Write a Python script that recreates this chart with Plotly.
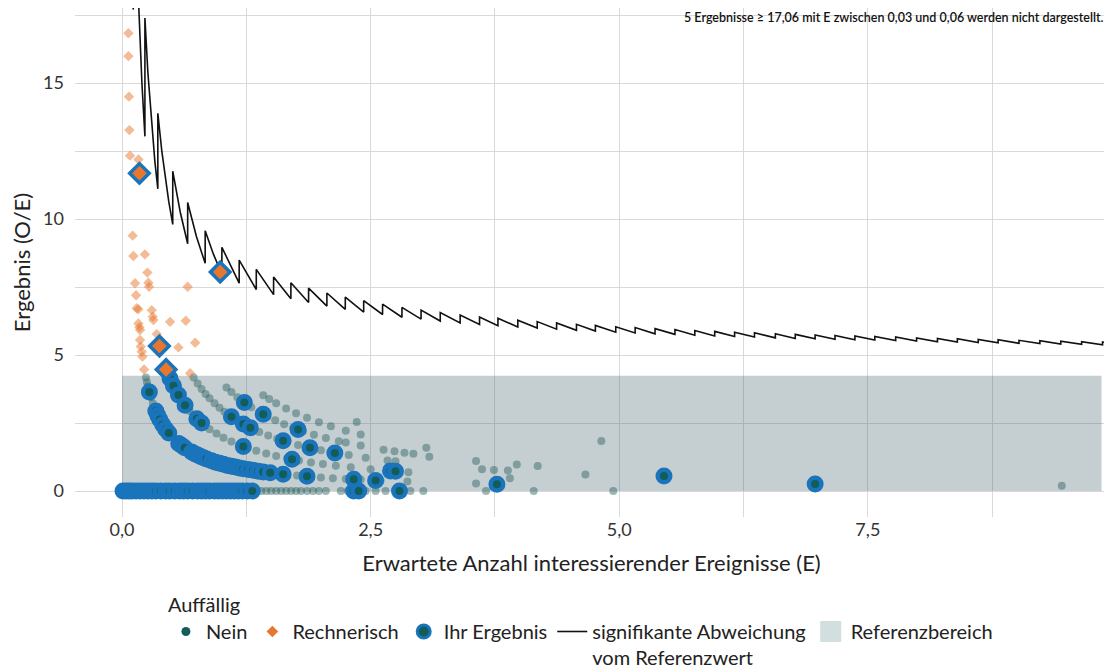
import plotly.graph_objects as go

# ---------------- data ----------------
# significance boundary (sawtooth), vertices
line_e = [0.095, 0.113, 0.113, 0.14, 0.17, 0.20, 0.23, 0.23, 0.26, 0.295, 0.33, 0.36,
          0.36, 0.40, 0.435, 0.47, 0.51, 0.51, 0.585, 0.66, 0.66, 0.748, 0.836, 0.836,
          0.92, 1.004, 1.004, 1.178, 1.178, 1.35, 1.35, 1.524, 1.524, 1.698, 1.698,
          1.876, 1.876, 2.06, 2.06, 2.245, 2.245, 2.43, 2.43, 2.62, 2.62, 2.815, 2.815,
          3.007, 3.007, 3.20, 3.20, 3.40, 3.40, 3.595, 3.595, 3.78, 3.78, 3.98, 3.98,
          4.175, 4.175, 4.37, 4.37, 4.57, 4.57, 4.76, 4.76, 4.965, 4.965, 5.16, 5.16,
          5.36, 5.36, 5.56, 5.56, 5.76, 5.76, 5.96, 5.96, 6.16, 6.16, 6.36, 6.36, 6.57,
          6.57, 6.77, 6.77, 6.97, 6.97, 7.17, 7.17, 7.37, 7.37, 7.57, 7.57, 7.78, 7.78,
          7.99, 7.99, 8.20, 8.20, 8.40, 8.40, 8.61, 8.61, 8.81, 8.81, 9.02, 9.02, 9.23,
          9.23, 9.44, 9.44, 9.65, 9.65, 9.86, 9.86, 9.93]
line_oe = [21.05, 17.70, 26.55, 21.43, 17.65, 15.00, 13.04, 17.39, 15.38, 13.56, 12.12, 11.11,
           13.89, 12.50, 11.49, 10.64, 9.80, 11.76, 10.26, 9.09, 10.61, 9.36, 8.37, 9.57,
           8.70, 7.97, 8.96, 7.64, 8.49, 7.41, 8.15, 7.22, 7.87, 7.07, 7.66,
           6.93, 7.46, 6.80, 7.28, 6.68, 7.13, 6.58, 7.00, 6.49, 6.87, 6.39, 6.75,
           6.32, 6.65, 6.25, 6.56, 6.18, 6.47, 6.12, 6.40, 6.08, 6.35, 6.03, 6.28,
           5.99, 6.23, 5.95, 6.18, 5.91, 6.13, 5.88, 6.09, 5.84, 6.04, 5.81, 6.01,
           5.78, 5.97, 5.76, 5.94, 5.73, 5.90, 5.70, 5.87, 5.68, 5.84, 5.66, 5.82, 5.63,
           5.78, 5.61, 5.76, 5.60, 5.74, 5.58, 5.72, 5.56, 5.70, 5.55, 5.68, 5.53, 5.66,
           5.51, 5.63, 5.49, 5.61, 5.48, 5.60, 5.46, 5.57, 5.45, 5.56, 5.43, 5.54, 5.42,
           5.53, 5.40, 5.51, 5.39, 5.49, 5.375, 5.48, 5.44]

# reference range (Referenzbereich)
ref_e = [0.0, 9.85]
ref_oe = [0.0, 4.24]

# "Nein" results
nein_e = [
    # O/E = 0
    0.02, 0.05, 0.08, 0.10, 0.13, 0.16, 0.19, 0.22, 0.25, 0.28, 0.31, 0.34, 0.37, 0.40,
    0.43, 0.46, 0.50, 0.53, 0.56, 0.60, 0.63, 0.66, 0.70, 0.73, 0.77, 0.80, 0.84, 0.88,
    0.92, 0.96, 1.00, 1.04, 1.08, 1.12, 1.16, 1.20, 1.25, 1.30, 1.35, 1.40, 1.45, 1.50,
    1.55, 1.60, 1.65, 1.70, 1.75, 1.80, 1.86, 1.92, 1.98, 2.05, 2.20, 2.27, 2.35, 2.45,
    2.55, 2.65, 2.90, 3.03, 3.66, 4.14, 4.94,
    # first curve
    0.24, 0.25, 0.26, 0.27, 0.29, 0.31, 0.33, 0.35, 0.37, 0.40, 0.43, 0.46, 0.50, 0.54,
    0.58, 0.62, 0.66, 0.70, 0.75, 0.80, 0.86, 0.92, 0.98, 1.05, 1.12, 1.20, 1.28, 1.36,
    1.45, 1.55, 1.65, 1.76, 1.88, 2.00, 2.12, 2.25, 2.40, 2.60, 2.87, 3.56, 9.45,
    # second curve
    0.48, 0.50, 0.53, 0.56, 0.60, 0.64, 0.68, 0.72, 0.77, 0.82, 0.88, 0.95, 1.02, 1.10,
    1.18, 1.26, 1.35, 1.45, 1.55, 1.66, 1.78, 1.90, 2.02, 2.15, 2.30, 2.50, 2.67, 2.88,
    3.90,
    # third curve
    0.72, 0.76, 0.80, 0.84, 0.88, 0.93, 0.98, 1.03, 1.09, 1.15, 1.22, 1.30, 1.38, 1.47,
    1.56, 1.66, 1.77, 1.88, 2.00, 2.14, 2.28, 2.45, 2.67, 2.75,
    # fourth curve
    1.05, 1.10, 1.16, 1.22, 1.30, 1.38, 1.46, 1.54, 1.63, 1.72, 1.82, 1.93, 2.05, 2.18,
    2.25, 2.40, 2.63, 2.74, 2.84, 2.93,
    # fifth curve
    1.42, 1.48, 1.55, 1.65, 1.75, 1.86, 1.98, 2.10, 2.25, 2.40,
    # scattered
    2.36, 3.06, 3.09, 3.56, 3.62, 3.74, 3.88, 3.97, 4.18, 4.66, 4.82,
]
nein_oe = [
    0, 0, 0, 0, 0, 0, 0, 0, 0, 0, 0, 0, 0, 0,
    0, 0, 0, 0, 0, 0, 0, 0, 0, 0, 0, 0, 0, 0,
    0, 0, 0, 0, 0, 0, 0, 0, 0, 0, 0, 0, 0, 0,
    0, 0, 0, 0, 0, 0, 0, 0, 0, 0, 0, 0, 0, 0,
    0, 0, 0, 0, 0, 0, 0,
    4.17, 4.00, 3.85, 3.70, 3.45, 3.23, 3.03, 2.86, 2.70, 2.50, 2.33, 2.17, 2.00, 1.85,
    1.72, 1.61, 1.52, 1.43, 1.33, 1.25, 1.16, 1.09, 1.02, 0.95, 0.89, 0.83, 0.78, 0.74,
    0.69, 0.65, 0.61, 0.57, 0.53, 0.50, 0.47, 0.44, 0.42, 0.38, 0.35, 0.28, 0.19,
    4.17, 4.00, 3.77, 3.57, 3.33, 3.13, 2.94, 2.78, 2.60, 2.44, 2.27, 2.11, 1.96, 1.82,
    1.69, 1.59, 1.48, 1.38, 1.29, 1.20, 1.12, 1.05, 0.99, 0.93, 0.87, 0.80, 0.75, 0.69,
    0.47,
    4.17, 3.95, 3.75, 3.57, 3.41, 3.23, 3.06, 2.91, 2.75, 2.61, 2.46, 2.31, 2.17, 2.04,
    1.92, 1.81, 1.69, 1.60, 1.50, 1.40, 1.32, 1.22, 1.12, 1.09,
    3.81, 3.64, 3.45, 3.28, 3.08, 2.90, 2.74, 2.60, 2.45, 2.33, 2.20, 2.07, 1.95, 1.83,
    1.78, 1.67, 1.52, 1.46, 1.41, 1.37,
    3.52, 3.38, 3.23, 3.03, 2.86, 2.69, 2.53, 2.38, 2.22, 2.08,
    2.54, 1.59, 1.26, 1.10, 0.80, 0.77, 0.75, 0.97, 0.92, 0.61, 1.84,
]

# "Rechnerisch" results
rech_e = [0.064, 0.064, 0.070, 0.074, 0.080, 0.165, 0.107, 0.114, 0.230, 0.255, 0.131,
          0.265, 0.272, 0.660, 0.141, 0.148, 0.164, 0.299, 0.309, 0.315, 0.483, 0.641,
          0.165, 0.175, 0.181, 0.349, 0.181, 0.188, 0.198, 0.205, 0.567, 0.735, 0.222,
          0.685]
rech_oe = [16.83, 15.99, 14.50, 13.27, 12.33, 12.19, 9.39, 8.64, 8.70, 8.03, 7.64,
           7.66, 7.51, 7.51, 7.20, 6.72, 6.68, 6.65, 6.41, 6.29, 6.22, 6.26,
           6.16, 6.02, 5.92, 5.77, 5.55, 5.31, 5.12, 4.94, 5.28, 5.45, 4.47,
           4.33]

# "Ihr Ergebnis" (own results, not flagged)
own_e = [0.01, 0.04, 0.07, 0.10, 0.14, 0.18, 0.22, 0.26, 0.30, 0.34, 0.39, 0.44, 0.48,
         0.53, 0.58, 0.62, 0.66, 0.71, 0.76, 0.80, 0.84, 0.88, 0.93, 0.97, 1.01, 1.05,
         1.09, 1.13, 1.17, 1.21, 1.26, 1.31, 2.33, 2.38, 2.79,
         0.275, 0.34, 0.36, 0.38, 0.41, 0.44, 0.47, 0.57, 0.60, 0.63, 0.70, 0.73, 0.76,
         0.79, 0.82, 0.85, 0.90, 0.94, 0.98, 1.02, 1.06, 1.10, 1.14, 1.18, 1.22, 1.27,
         1.32, 1.37, 1.42, 1.49, 1.62, 1.86, 2.33, 2.55, 3.77, 6.97,
         0.483, 0.517, 0.567, 0.634, 0.752, 0.80, 1.22, 1.71, 2.70, 2.75, 5.45,
         1.10, 1.22, 1.29, 1.62, 1.89, 2.14,
         1.23, 1.42, 1.77]
own_oe = [0, 0, 0, 0, 0, 0, 0, 0, 0, 0, 0, 0, 0,
          0, 0, 0, 0, 0, 0, 0, 0, 0, 0, 0, 0, 0,
          0, 0, 0, 0, 0, 0, 0, 0, 0,
          3.64, 2.94, 2.78, 2.63, 2.44, 2.27, 2.13, 1.75, 1.67, 1.59, 1.43, 1.37, 1.32,
          1.27, 1.22, 1.18, 1.11, 1.06, 1.02, 0.98, 0.94, 0.91, 0.88, 0.85, 0.82, 0.79,
          0.76, 0.73, 0.70, 0.67, 0.62, 0.54, 0.43, 0.39, 0.25, 0.26,
          4.14, 3.87, 3.53, 3.15, 2.66, 2.50, 1.64, 1.17, 0.74, 0.73, 0.55,
          2.73, 2.46, 2.33, 1.85, 1.59, 1.40,
          3.25, 2.82, 2.26]

# "Ihr Ergebnis" that are also "Rechnerisch"
own_rech_e = [0.175, 0.987, 0.376, 0.443]
own_rech_oe = [11.68, 8.05, 5.33, 4.47]

legend_names = ["Nein", "Rechnerisch", "Ihr Ergebnis",
                "signifikante Abweichung<br>vom Referenzwert", "Referenzbereich"]
note_text = "5 Ergebnisse ≥ 17,06 mit E zwischen 0,03 und 0,06 werden nicht dargestellt."

# ---------------- styles ----------------
FONT = "Lato"
TEAL = "#2a5f60"
TEAL_SOLID = "#125d59"
ORANGE = "#e8772e"
BLUE = "#1a74bb"
REF_FILL = "rgba(55,90,100,0.29)"
GRID = "#d9d9d9"

fig = go.Figure()

# Referenzbereich
fig.add_trace(go.Scatter(
    x=[ref_e[0], ref_e[1], ref_e[1], ref_e[0], ref_e[0]],
    y=[ref_oe[0], ref_oe[0], ref_oe[1], ref_oe[1], ref_oe[0]],
    mode="lines", fill="toself", fillcolor=REF_FILL,
    line=dict(width=0), hoverinfo="skip", showlegend=False))

# Nein
fig.add_trace(go.Scatter(
    x=nein_e, y=nein_oe, mode="markers",
    marker=dict(color=TEAL, size=8, opacity=0.45, line=dict(width=0)),
    showlegend=False))

# Rechnerisch
fig.add_trace(go.Scatter(
    x=rech_e, y=rech_oe, mode="markers",
    marker=dict(color=ORANGE, size=8, symbol="diamond", opacity=0.5, line=dict(width=0)),
    showlegend=False))

# significance line
fig.add_trace(go.Scatter(
    x=line_e, y=line_oe, mode="lines",
    line=dict(color="#111111", width=1.6), showlegend=False))

# own results
fig.add_trace(go.Scatter(
    x=own_e, y=own_oe, mode="markers",
    marker=dict(color=TEAL_SOLID, size=12.5, line=dict(color=BLUE, width=4.5)),
    showlegend=False))
fig.add_trace(go.Scatter(
    x=own_rech_e, y=own_rech_oe, mode="markers",
    marker=dict(color=ORANGE, size=15, symbol="diamond", line=dict(color=BLUE, width=3.5)),
    showlegend=False))

# legend entries
fig.add_trace(go.Scatter(x=[None], y=[None], mode="markers", name=legend_names[0],
                         marker=dict(color=TEAL_SOLID, size=9)))
fig.add_trace(go.Scatter(x=[None], y=[None], mode="markers", name=legend_names[1],
                         marker=dict(color=ORANGE, size=9, symbol="diamond")))
fig.add_trace(go.Scatter(x=[None], y=[None], mode="markers", name=legend_names[2],
                         marker=dict(color=TEAL_SOLID, size=13, line=dict(color=BLUE, width=3))))
fig.add_trace(go.Scatter(x=[None], y=[None], mode="lines", name=legend_names[3],
                         line=dict(color="#111111", width=1.6)))
fig.add_trace(go.Scatter(x=[None], y=[None], mode="markers", name=legend_names[4],
                         marker=dict(color="#d3dfdf", size=30, symbol="square",
                                     line=dict(color="#d3dfdf", width=6))))

fig.add_annotation(text=note_text, xref="paper", yref="paper", x=1.0, y=1.0,
                   xanchor="right", yanchor="top", showarrow=False, xshift=-2,
                   font=dict(family=FONT, size=12.5, color="#111111", weight=600))

fig.update_layout(
    width=1104, height=669,
    margin=dict(l=67, r=4, t=0, b=160),
    paper_bgcolor="white", plot_bgcolor="white",
    separators=",.",
    font=dict(family=FONT, size=18, color="#333333"),
    legend=dict(orientation="h", x=0.088, y=-0.1365, xanchor="left", yanchor="top",
                title=dict(text="Auffällig", side="top", font=dict(size=20, color="#222222")),
                font=dict(size=20, color="#222222"), itemsizing="trace", valign="top",
                traceorder="normal"),
)
fig.update_xaxes(range=[-0.473, 9.915], tick0=0, dtick=2.5, tickformat=".1f",
                 showgrid=True, gridcolor=GRID, gridwidth=1.3, zeroline=False,
                 showline=False, ticks="", ticklabelstandoff=0,
                 minor=dict(dtick=1.25, tick0=0, showgrid=True, gridcolor=GRID, gridwidth=1.3),
                 title=dict(text="Erwartete Anzahl interessierender Ereignisse (E)",
                            font=dict(size=22, color="#222222"), standoff=16))
fig.update_yaxes(range=[-0.956, 17.76], tick0=0, dtick=5,
                 showgrid=True, gridcolor=GRID, gridwidth=1.3, zeroline=False,
                 showline=False, ticks="", ticklabelstandoff=10,
                 minor=dict(dtick=2.5, tick0=0, showgrid=True, gridcolor=GRID, gridwidth=1.3),
                 title=dict(text="Ergebnis (O/E)", font=dict(size=22, color="#222222"),
                            standoff=12))

fig.write_html("out.html")
